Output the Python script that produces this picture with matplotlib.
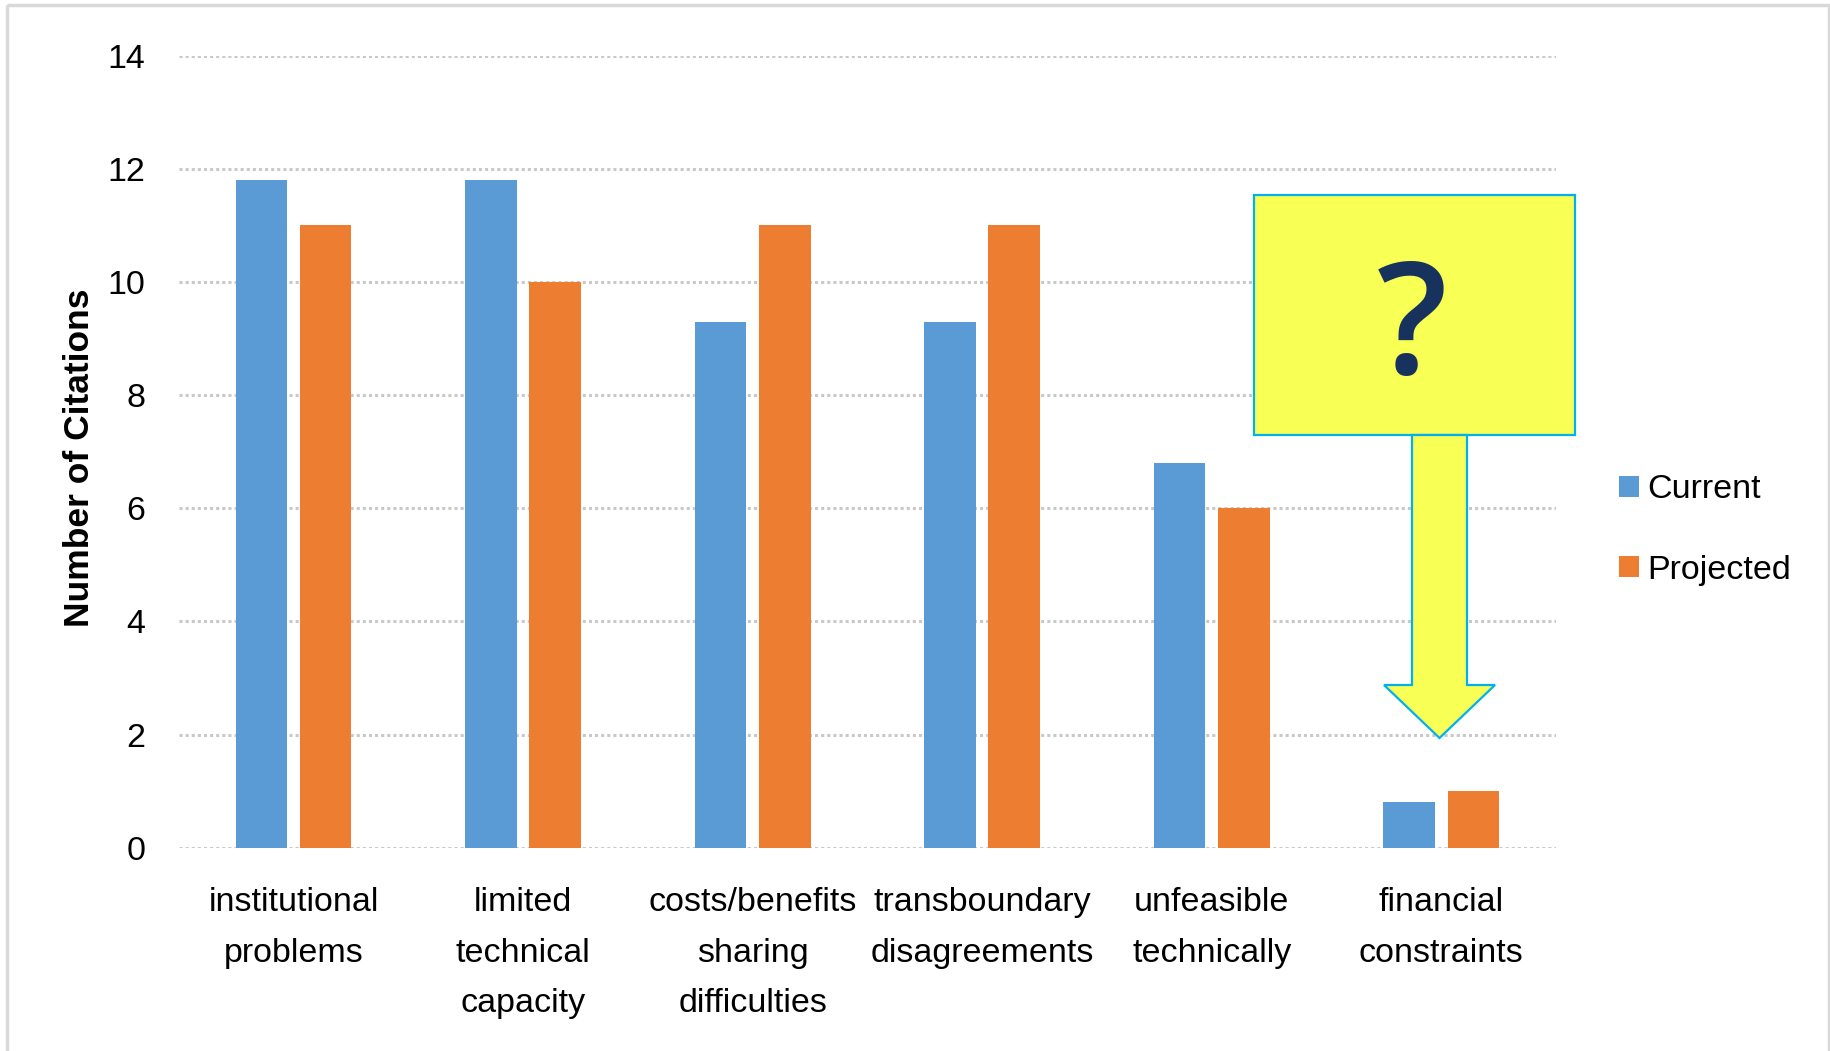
import numpy as np
import matplotlib.pyplot as plt
from matplotlib.patches import Rectangle, FancyArrow
from matplotlib.transforms import Affine2D

# chart data
categories = ['institutional\nproblems', 'limited\ntechnical\ncapacity',
              'costs/benefits\nsharing\ndifficulties', 'transboundary\ndisagreements',
              'unfeasible\ntechnically', 'financial\nconstraints']
current   = [11.8, 11.8, 9.3, 9.3, 6.8, 0.8]
projected = [11.0, 10.0, 11.0, 11.0, 6.0, 1.0]
yticks    = [0, 2, 4, 6, 8, 10, 12, 14]

BLUE   = '#5B9BD5'
ORANGE = '#ED7D31'
GRID   = '#C9C9C9'
FS     = 24.5

plt.rcParams['font.family'] = ['Liberation Sans', 'DejaVu Sans']

W, H = 1831, 1051
fig = plt.figure(figsize=(W/100, H/100), dpi=100)
ax = fig.add_axes([178.7/W, 1 - 847.7/H, (1556 - 178.7)/W, (847.7 - 55.7)/H])

x = np.arange(len(categories))
ax.bar(x - 0.14, current,   width=0.225, color=BLUE,   label='Current',   zorder=2)
ax.bar(x + 0.14, projected, width=0.225, color=ORANGE, label='Projected', zorder=2)

ax.set_xlim(-0.5, len(categories) - 0.5)
ax.set_ylim(0, 14)
ax.set_yticks(yticks)
ax.set_xticks(x)
ax.set_xticklabels(categories, fontsize=FS, linespacing=1.83)
ax.tick_params(axis='y', length=0, pad=24, labelsize=FS)
ax.tick_params(axis='x', length=0, pad=28)
for s in ax.spines.values():
  s.set_visible(False)
ax.set_axisbelow(True)
ax.yaxis.grid(True, color=GRID, lw=2.2, linestyle=(0, (1, 1)))

fig.text(80/W, 1 - 458/H, 'Number of Citations', rotation=90, fontsize=25.5,
         fontweight='bold', ha='center', va='center')

ax.legend(loc='center left', bbox_to_anchor=(1619.5/W, 1 - 530/H),
          bbox_transform=fig.transFigure, frameon=False, fontsize=FS,
          handlelength=0.56, handleheight=0.56, handletextpad=0.25,
          labelspacing=1.45, borderpad=0, borderaxespad=0)

# pixel coords (y down) -> figure
px = Affine2D().scale(1/W, -1/H).translate(0, 1) + fig.transFigure

# outer frame
fig.patches.append(Rectangle((7, 5), 1822, 1100, transform=px, fill=False,
                             edgecolor='#D9D9D9', lw=2.5, zorder=0))

# yellow callout box + arrow
fig.patches.append(Rectangle((1254, 195), 321, 240, transform=px, facecolor='#F8FF55',
                             edgecolor='#00B0F0', lw=1.6, zorder=5))
fig.patches.append(FancyArrow(1439.5, 435, 0, 303, width=55, head_width=111,
                              head_length=53, length_includes_head=True, transform=px,
                              facecolor='#F8FF55', edgecolor='#00B0F0', lw=1.6, zorder=5))
fig.text(1412/W, 1 - 333/H, '?', fontsize=112, color='#17325C', ha='center', va='center',
         family='Open Sans', fontweight='semibold', zorder=6)

fig.savefig('out.png', dpi=100)
